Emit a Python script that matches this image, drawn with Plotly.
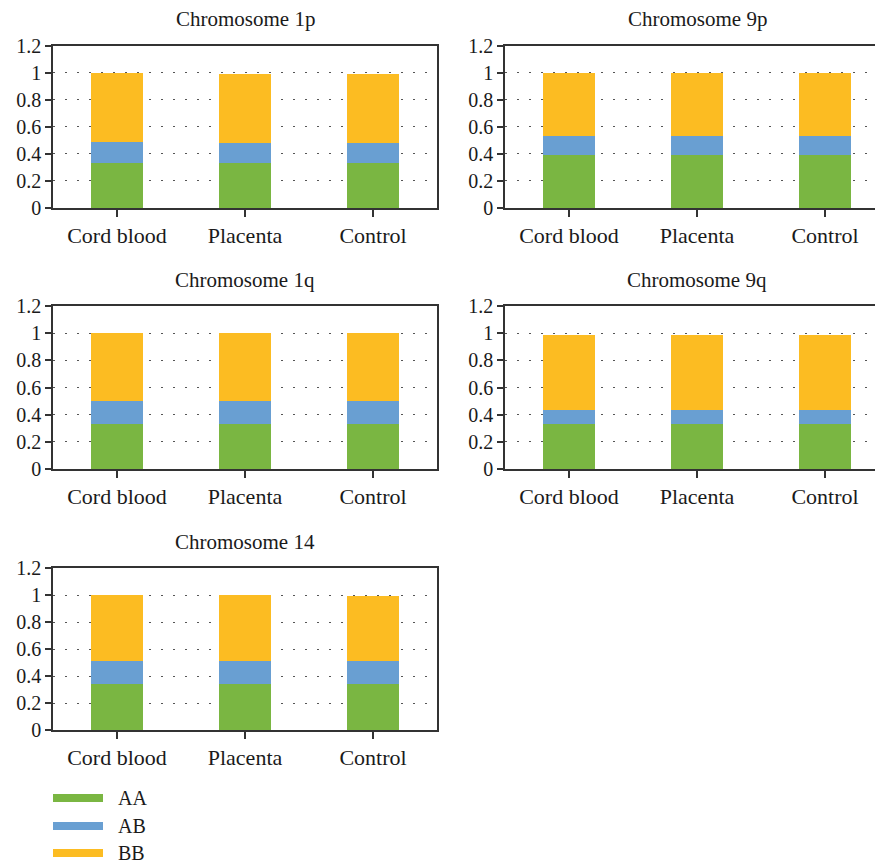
import plotly.graph_objects as go

# ---------------- data ----------------
categories = ["Cord blood", "Placenta", "Control"]
genotypes = ["AA", "AB", "BB"]
panel_titles = ["Chromosome 1p", "Chromosome 9p", "Chromosome 1q",
                "Chromosome 9q", "Chromosome 14"]

aa_1p = [0.33, 0.33, 0.33]
ab_1p = [0.16, 0.15, 0.15]
bb_1p = [0.51, 0.51, 0.51]

aa_9p = [0.39, 0.39, 0.39]
ab_9p = [0.145, 0.145, 0.145]
bb_9p = [0.465, 0.465, 0.465]

aa_1q = [0.33, 0.33, 0.33]
ab_1q = [0.17, 0.17, 0.17]
bb_1q = [0.50, 0.50, 0.50]

aa_9q = [0.33, 0.33, 0.33]
ab_9q = [0.105, 0.105, 0.105]
bb_9q = [0.555, 0.555, 0.555]

aa_14 = [0.34, 0.34, 0.34]
ab_14 = [0.17, 0.17, 0.17]
bb_14 = [0.49, 0.49, 0.48]

panels = [
    (aa_1p, ab_1p, bb_1p),
    (aa_9p, ab_9p, bb_9p),
    (aa_1q, ab_1q, bb_1q),
    (aa_9q, ab_9q, bb_9q),
    (aa_14, ab_14, bb_14),
]

colors = ["#7AB642", "#699FD2", "#FCBC22"]

# ---------------- layout geometry ----------------
W, H = 883, 863
OFF = 8  # page body margin offset
FONT = "Liberation Serif"
TXT = "#1a1a1a"
AXC = "#333333"

def px(v):
    return (v - OFF) / W

def py(v):
    return 1 - (v - OFF) / H

col_x = [(53, 437), (505, W + OFF)]
row_y = [(45.5, 208), (306, 469), (568, 730)]
col_range = [[-0.5, 2.5], [-0.5, -0.5 + (W + OFF - 505) / 128.0]]
title_cx = [245, 697]

fig = go.Figure()
layout = dict(
    width=W, height=H,
    margin=dict(l=0, r=0, t=0, b=0, autoexpand=False),
    paper_bgcolor="white", plot_bgcolor="white",
    barmode="stack", showlegend=False,
    font=dict(family=FONT, color=TXT),
)

annotations = []
shapes = []

for i, (vals, title) in enumerate(zip(panels, panel_titles)):
    r, c = divmod(i, 2)
    n = i + 1
    xa = "x" if n == 1 else f"x{n}"
    ya = "y" if n == 1 else f"y{n}"
    for g, v, col in zip(genotypes, vals, colors):
        fig.add_trace(go.Bar(
            x=categories, y=v, name=g, xaxis=xa, yaxis=ya,
            marker=dict(color=col, line=dict(width=0)),
            width=0.4, showlegend=False,
        ))
    x0, x1 = col_x[c]
    y0, y1 = row_y[r]
    layout[f"xaxis{'' if n == 1 else n}"] = dict(
        domain=[px(x0), min(1.0, px(x1))], anchor=ya, type="category",
        range=col_range[c], showline=True, linecolor=AXC, linewidth=1.5,
        mirror=True, ticks="outside", ticklen=7, tickwidth=1.5,
        tickcolor=AXC, showgrid=False, zeroline=False, automargin=False,
        tickfont=dict(family=FONT, size=22, color=TXT), fixedrange=True,
    )
    layout[f"yaxis{'' if n == 1 else n}"] = dict(
        domain=[py(y1), py(y0)], anchor=xa,
        range=[0, 1.2], dtick=0.2, tick0=0,
        showline=True, linecolor=AXC, linewidth=1.5,
        mirror=(c == 0), ticks="outside", ticklen=6, tickwidth=1.5,
        tickcolor=AXC, showgrid=True, gridcolor="#555555", gridwidth=1,
        griddash="2px,10px", zeroline=False, automargin=False,
        tickfont=dict(family=FONT, size=20, color=TXT), fixedrange=True,
    )
    annotations.append(dict(
        text=title, xref="paper", yref="paper",
        x=px(title_cx[c]), y=py(y0 - 26),
        xanchor="center", yanchor="middle", showarrow=False,
        font=dict(family=FONT, size=21, color=TXT),
    ))

# legend (manual swatches, bottom-left)
leg_y = [798, 826, 853]
for g, col, yy in zip(genotypes, colors, leg_y):
    shapes.append(dict(
        type="rect", xref="paper", yref="paper",
        x0=px(53), x1=px(103), y0=py(yy + 4), y1=py(yy - 4),
        fillcolor=col, line=dict(width=0),
    ))
    annotations.append(dict(
        text=g, xref="paper", yref="paper",
        x=px(116), y=py(yy), xanchor="left", yanchor="middle",
        showarrow=False, font=dict(family=FONT, size=20, color=TXT),
    ))

layout["annotations"] = annotations
layout["shapes"] = shapes
fig.update_layout(**layout)

fig.write_html("out.html")
